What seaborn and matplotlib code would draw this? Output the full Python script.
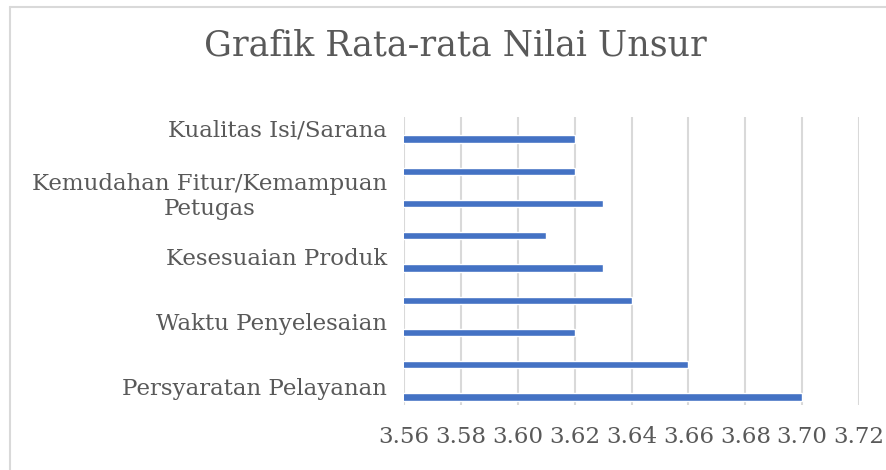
import numpy as np
import pandas as pd
import matplotlib
matplotlib.use("Agg")
import matplotlib.pyplot as plt
import matplotlib.transforms as mtransforms
from matplotlib.lines import Line2D
import seaborn as sns

# Data (natural order, bottom to top in the chart)
categories = [
    "Persyaratan Pelayanan",
    "Prosedur Pelayanan",
    "Waktu Penyelesaian",
    "Biaya/Tarif",
    "Kesesuaian Produk",
    "Kompetensi Petugas",
    "Kemudahan Fitur/Kemampuan\nPetugas",
    "Penanganan Pengaduan",
    "Kualitas Isi/Sarana",
]
values = [3.70, 3.66, 3.62, 3.64, 3.63, 3.61, 3.63, 3.62, 3.62]
shown_labels = [True, False, True, False, True, False, True, False, True]
xticks = [3.56, 3.58, 3.60, 3.62, 3.64, 3.66, 3.68, 3.70, 3.72]
title = "Grafik Rata-rata Nilai Unsur"

sns.set_theme(style="white")
plt.rcParams["font.family"] = ["DejaVu Serif"]

text_color = "#595959"
grid_color = "#d9d9d9"
bar_color = "#4472C4"

df = pd.DataFrame({"Unsur": categories, "Nilai": values})
order = categories[::-1]  # top to bottom

fig = plt.figure(figsize=(8.86, 4.70), dpi=100)
ax = fig.add_axes([404 / 886, 1 - 405 / 470, (859 - 404) / 886, (405 - 117) / 470])

sns.barplot(data=df, x="Nilai", y="Unsur", order=order, orient="h",
            color=bar_color, saturation=1, width=0.22, ax=ax)

ax.set_xlim(xticks[0], xticks[-1])
ax.set_ylim(8.248, -0.682)
ax.set_xticks(xticks)
ax.set_xticklabels([f"{t:.2f}" for t in xticks], fontsize=16.5, color=text_color)

lab_map = dict(zip(categories, shown_labels))
ax.set_yticks(range(len(order)))
ax.set_yticklabels([c if lab_map[c] else "" for c in order], fontsize=16.5,
                   color=text_color, multialignment="center")

ax.tick_params(axis="both", length=0)
ax.tick_params(axis="y", pad=12)
ax.tick_params(axis="x", pad=15)
ax.set_xlabel("")
ax.set_ylabel("")
for s in ax.spines.values():
    s.set_visible(False)
ax.grid(False)
for t in xticks:
    ax.axvline(t, color=grid_color, lw=1.5, zorder=0)

shift = mtransforms.ScaledTranslation(0, 0.11, fig.dpi_scale_trans)
for tick in ax.yaxis.get_major_ticks():
    tick.label1.set_transform(tick.label1.get_transform() + shift)

fig.text(455 / 886, 1 - 46 / 470, title, ha="center", va="center",
         fontsize=25, color=text_color)

fig.add_artist(Line2D([10 / 886, 1.05], [1 - 7 / 470, 1 - 7 / 470],
                      transform=fig.transFigure, color=grid_color, lw=1.5))
fig.add_artist(Line2D([10 / 886, 10 / 886], [1 - 7 / 470, -0.05],
                      transform=fig.transFigure, color=grid_color, lw=1.5))

fig.savefig("out.png", dpi=100)
